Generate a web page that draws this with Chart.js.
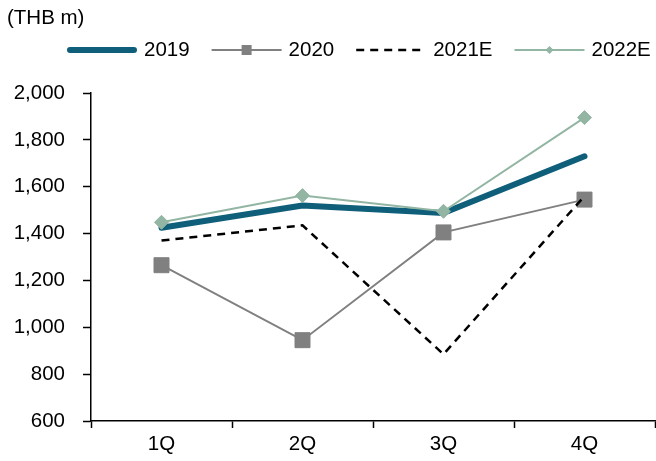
<!DOCTYPE html>
<html>
<head>
<meta charset="utf-8">
<title>Quarterly revenue (THB m)</title>
<script src="https://cdn.jsdelivr.net/npm/chart.js@4/dist/chart.umd.min.js"></script>
<style>
  html, body { margin: 0; padding: 0; background: #fff; }
  #wrap { width: 656px; height: 461px; position: relative; }
</style>
</head>
<body>
<div id="wrap"><canvas id="c" width="656" height="461"></canvas></div>
<script>
// Quarterly figures, THB m
const quarters = ['1Q', '2Q', '3Q', '4Q'];
const seriesNames = ['2019', '2020', '2021E', '2022E'];
const values2019 = [1425, 1520, 1488, 1730];
const values2020 = [1265, 945, 1405, 1545];
const values2021E = [1370, 1435, 885, 1560];
const values2022E = [1448, 1562, 1495, 1895];
const yTicks = [600, 800, 1000, 1200, 1400, 1600, 1800, 2000];
const unitLabel = '(THB m)';

const FONT = 'Liberation Sans, Arial, Helvetica, sans-serif';
const FONT_SIZE = 20.5;

// Small legend marker in the dataset's point style
function drawMarker(ctx, style, r, x, y, color) {
  ctx.save();
  ctx.fillStyle = color;
  ctx.beginPath();
  if (style === 'rect') {
    ctx.rect(x - r, y - r, 2 * r, 2 * r);
  } else if (style === 'rectRot') {
    ctx.moveTo(x, y - r);
    ctx.lineTo(x + r, y);
    ctx.lineTo(x, y + r);
    ctx.lineTo(x - r, y);
    ctx.closePath();
  }
  ctx.fill();
  ctx.restore();
}

// Legend row + unit label above the plot
const legendRow = {
  id: 'legendRow',
  afterDraw(chart, args, opts) {
    const ctx = chart.ctx;
    ctx.save();
    ctx.font = FONT_SIZE + 'px ' + FONT;
    ctx.fillStyle = '#000';
    ctx.textBaseline = 'middle';
    ctx.textAlign = 'left';
    ctx.fillText(unitLabel, opts.titleX, opts.titleY);

    let x = opts.startX;
    const y = opts.y;
    chart.data.datasets.forEach(ds => {
      ctx.save();
      ctx.strokeStyle = ds.borderColor;
      ctx.lineWidth = ds.borderWidth;
      ctx.lineCap = ds.borderCapStyle || 'butt';
      ctx.setLineDash(ds.borderDash || []);
      const inset = ctx.lineCap === 'round' ? ds.borderWidth / 2 : 0;
      ctx.beginPath();
      ctx.moveTo(x + inset, y);
      ctx.lineTo(x + opts.sampleLength - inset, y);
      ctx.stroke();
      ctx.restore();
      if (ds.legendMarker > 0) {
        drawMarker(ctx, ds.pointStyle, ds.legendMarker, x + opts.sampleLength / 2, y, ds.pointBackgroundColor);
      }
      x += opts.sampleLength + opts.textGap;
      ctx.fillStyle = '#000';
      ctx.fillText(ds.label, x, y);
      x += ctx.measureText(ds.label).width + opts.itemGap;
    });
    ctx.restore();
  }
};

new Chart(document.getElementById('c'), {
  type: 'line',
  data: {
    labels: quarters,
    datasets: [
      {
        label: seriesNames[0], data: values2019,
        borderColor: '#0f5f7b', backgroundColor: '#0f5f7b',
        borderWidth: 6, borderCapStyle: 'round', borderJoinStyle: 'round',
        pointRadius: 0, order: 4, legendMarker: 0
      },
      {
        label: seriesNames[1], data: values2020,
        borderColor: '#808080', backgroundColor: '#808080',
        borderWidth: 2, pointStyle: 'rect', pointRadius: 10.6,
        pointBorderWidth: 1, pointBorderColor: '#808080', pointBackgroundColor: '#808080',
        order: 3, legendMarker: 5
      },
      {
        label: seriesNames[2], data: values2021E,
        borderColor: '#000000', backgroundColor: '#000000',
        borderWidth: 2.5, borderDash: [8, 6],
        pointRadius: 0, order: 2, legendMarker: 0
      },
      {
        label: seriesNames[3], data: values2022E,
        borderColor: '#93b5a3', backgroundColor: '#93b5a3',
        borderWidth: 2, pointStyle: 'rectRot', pointRadius: 7,
        pointBorderWidth: 1, pointBorderColor: '#93b5a3', pointBackgroundColor: '#93b5a3',
        order: 1, legendMarker: 4
      }
    ]
  },
  options: {
    responsive: false,
    animation: false,
    layout: { autoPadding: false, padding: { top: 93, right: 1, bottom: 0, left: 0 } },
    elements: { line: { tension: 0 } },
    plugins: {
      legend: { display: false },
      tooltip: { enabled: false },
      legendRow: {
        titleX: 7, titleY: 18,
        startX: 67, y: 50,
        sampleLength: 70, textGap: 7, itemGap: 22
      }
    },
    scales: {
      x: {
        type: 'category',
        offset: true,
        grid: {
          offset: true, drawOnChartArea: false,
          tickLength: 7, tickColor: '#000', tickWidth: 1.5
        },
        border: { color: '#000', width: 1.5 },
        ticks: {
          color: '#000', padding: 4,
          font: { family: FONT, size: FONT_SIZE }
        },
        afterFit(scale) { scale.height = 40; }
      },
      y: {
        min: 600, max: 2000,
        afterBuildTicks(scale) { scale.ticks = yTicks.map(v => ({ value: v })); },
        grid: {
          drawOnChartArea: false,
          tickLength: 8, tickColor: '#000', tickWidth: 1.5
        },
        border: { color: '#000', width: 1.5 },
        ticks: {
          color: '#000', padding: 18,
          font: { family: FONT, size: FONT_SIZE },
          callback: v => v.toLocaleString('en-US')
        },
        afterFit(scale) { scale.width = 91; }
      }
    }
  },
  plugins: [legendRow]
});
</script>
</body>
</html>
